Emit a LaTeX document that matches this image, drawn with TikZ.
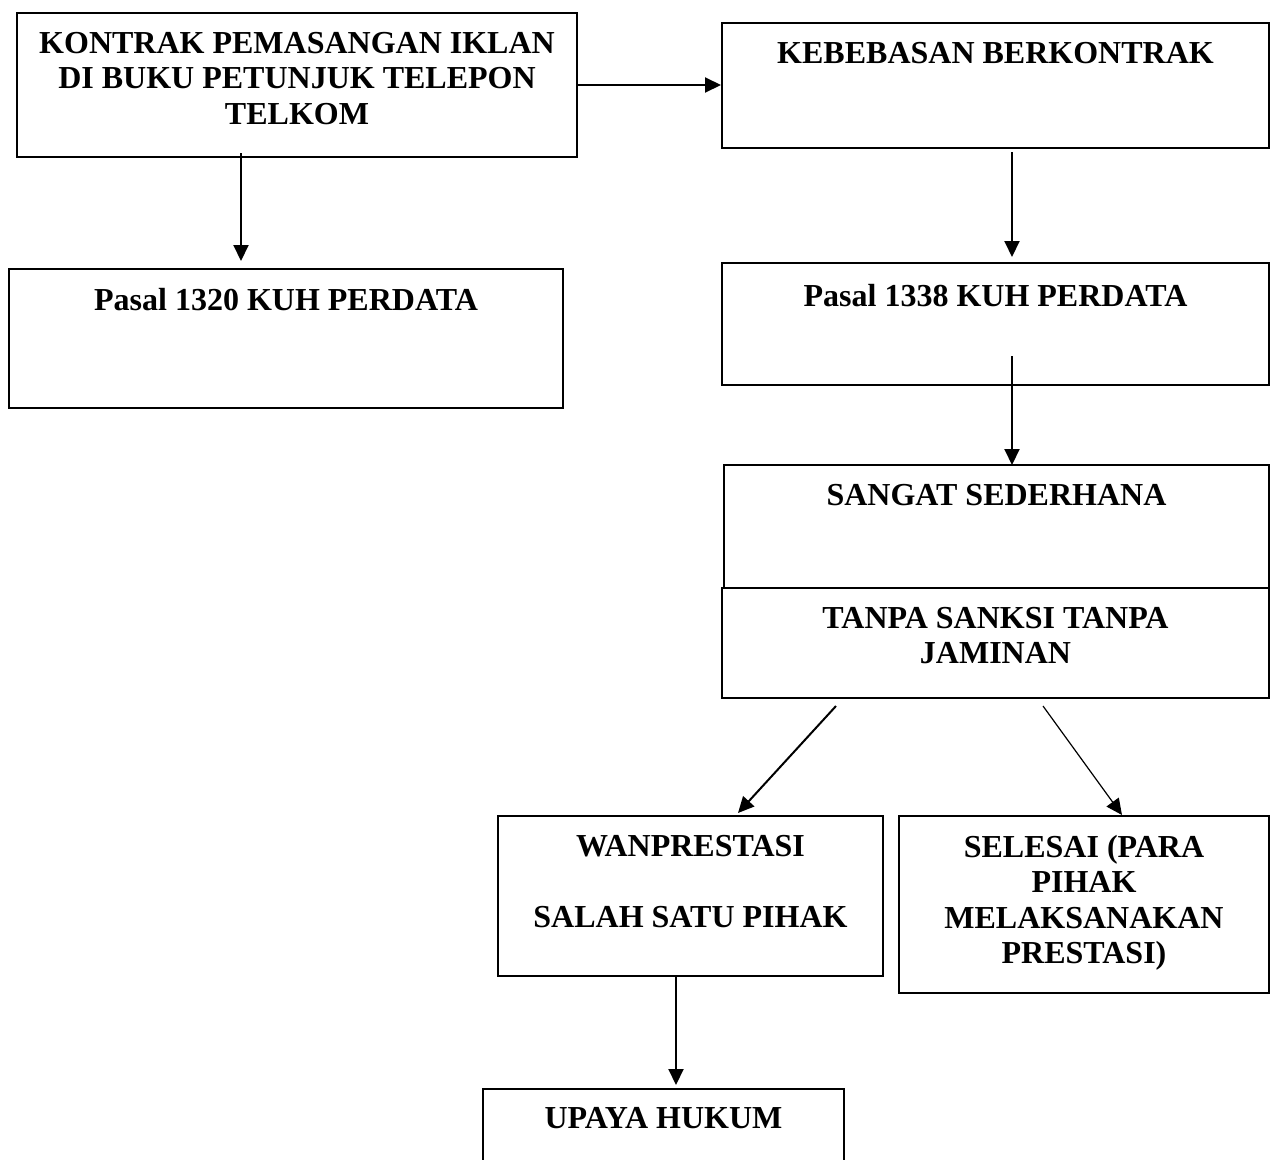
\documentclass[tikz,border=0pt]{standalone}
\usepackage{fontspec}
\setmainfont{Liberation Serif}
\usetikzlibrary{arrows.meta}
\begin{document}
\begin{tikzpicture}[x=1pt,y=-1pt,
  box/.style={draw, line width=2pt, fill=white, rectangle, inner sep=0pt, anchor=north west},
  lbl/.style={anchor=north, inner sep=0pt, align=center, font=\bfseries\fontsize{32}{35.5}\selectfont},
  arr/.style={line width=2pt, -{Triangle[length=16pt,width=15pt]}},
  arrthin/.style={line width=1.2pt, -{Triangle[length=16pt,width=15pt]}}]
\useasboundingbox (0,0) rectangle (1270,1160);
\clip (0,0) rectangle (1270,1160);
\fill[white] (0,0) rectangle (1270,1160);
% boxes
\node[box, minimum width=560pt, minimum height=144pt] (b1) at (16,12) {};
\node[box, minimum width=547pt, minimum height=125pt] (b2) at (721,22) {};
\node[box, minimum width=554pt, minimum height=139pt] (b3) at (8,268) {};
\node[box, minimum width=547pt, minimum height=122pt] (b4) at (721,262) {};
\node[box, minimum width=545pt, minimum height=126pt] (b5) at (723,464) {};
\node[box, minimum width=547pt, minimum height=110pt] (b6) at (721,587) {};
\node[box, minimum width=385pt, minimum height=160pt] (b7) at (497,815) {};
\node[box, minimum width=370pt, minimum height=177pt] (b8) at (898,815) {};
\node[box, minimum width=361pt, minimum height=110pt] (b9) at (482,1088) {};
% labels
\node[lbl] (t1) at ([yshift=-20pt]b1.north) {KONTRAK PEMASANGAN IKLAN\\DI BUKU PETUNJUK TELEPON\\TELKOM};
\node[lbl] (t2) at ([yshift=-20pt]b2.north) {KEBEBASAN BERKONTRAK};
\node[lbl] (t3) at ([yshift=-20pt]b3.north) {Pasal 1320 KUH PERDATA};
\node[lbl] (t4) at ([yshift=-22pt]b4.north) {Pasal 1338 KUH PERDATA};
\node[lbl] (t5) at ([yshift=-20pt]b5.north) {SANGAT SEDERHANA};
\node[lbl] (t6) at ([yshift=-20pt]b6.north) {TANPA SANKSI TANPA\\JAMINAN};
\node[lbl] (t7) at ([yshift=-20pt]b7.north) {WANPRESTASI\\[36pt]SALAH SATU PIHAK};
\node[lbl] (t8) at ([yshift=-20pt]b8.north) {SELESAI (PARA\\PIHAK\\MELAKSANAKAN\\PRESTASI)};
\node[lbl] (t9) at ([yshift=-19pt]b9.north) {UPAYA HUKUM};
% connector end points
\coordinate (a2s) at ([xshift=225pt,yshift=5pt]b1.south west);
\coordinate (a2e) at ([xshift=233pt,yshift=7pt]b3.north west);
\coordinate (a3s) at ([xshift=291pt,yshift=-3pt]b2.south west);
\coordinate (a3e) at ([xshift=291pt,yshift=5pt]b4.north west);
\coordinate (a4s) at ([xshift=291pt,yshift=-94pt]b4.north west);
\coordinate (a4e) at ([xshift=289pt,yshift=-1pt]b5.north west);
\coordinate (a5s) at ([xshift=115pt,yshift=-7pt]b6.south west);
\coordinate (a5e) at ([xshift=241pt,yshift=2pt]b7.north west);
\coordinate (a6s) at ([xshift=322pt,yshift=-7pt]b6.south west);
\coordinate (a6e) at ([xshift=224pt,yshift=0pt]b8.north west);
\coordinate (a7s) at ([xshift=179pt]b7.south west);
\coordinate (a7e) at ([xshift=194pt,yshift=3pt]b9.north west);
% connectors
\draw[arr] (b1.east) -- (b2.west |- b1.east);
\draw[arr] (a2s) -- (a2e);
\draw[arr] (a3s) -- (a3e);
\draw[arr] (a4s) -- (a4e);
\draw[arr] (a5s) -- (a5e);
\draw[arrthin] (a6s) -- (a6e);
\draw[arr] (a7s) -- (a7e);
\end{tikzpicture}
\end{document}
